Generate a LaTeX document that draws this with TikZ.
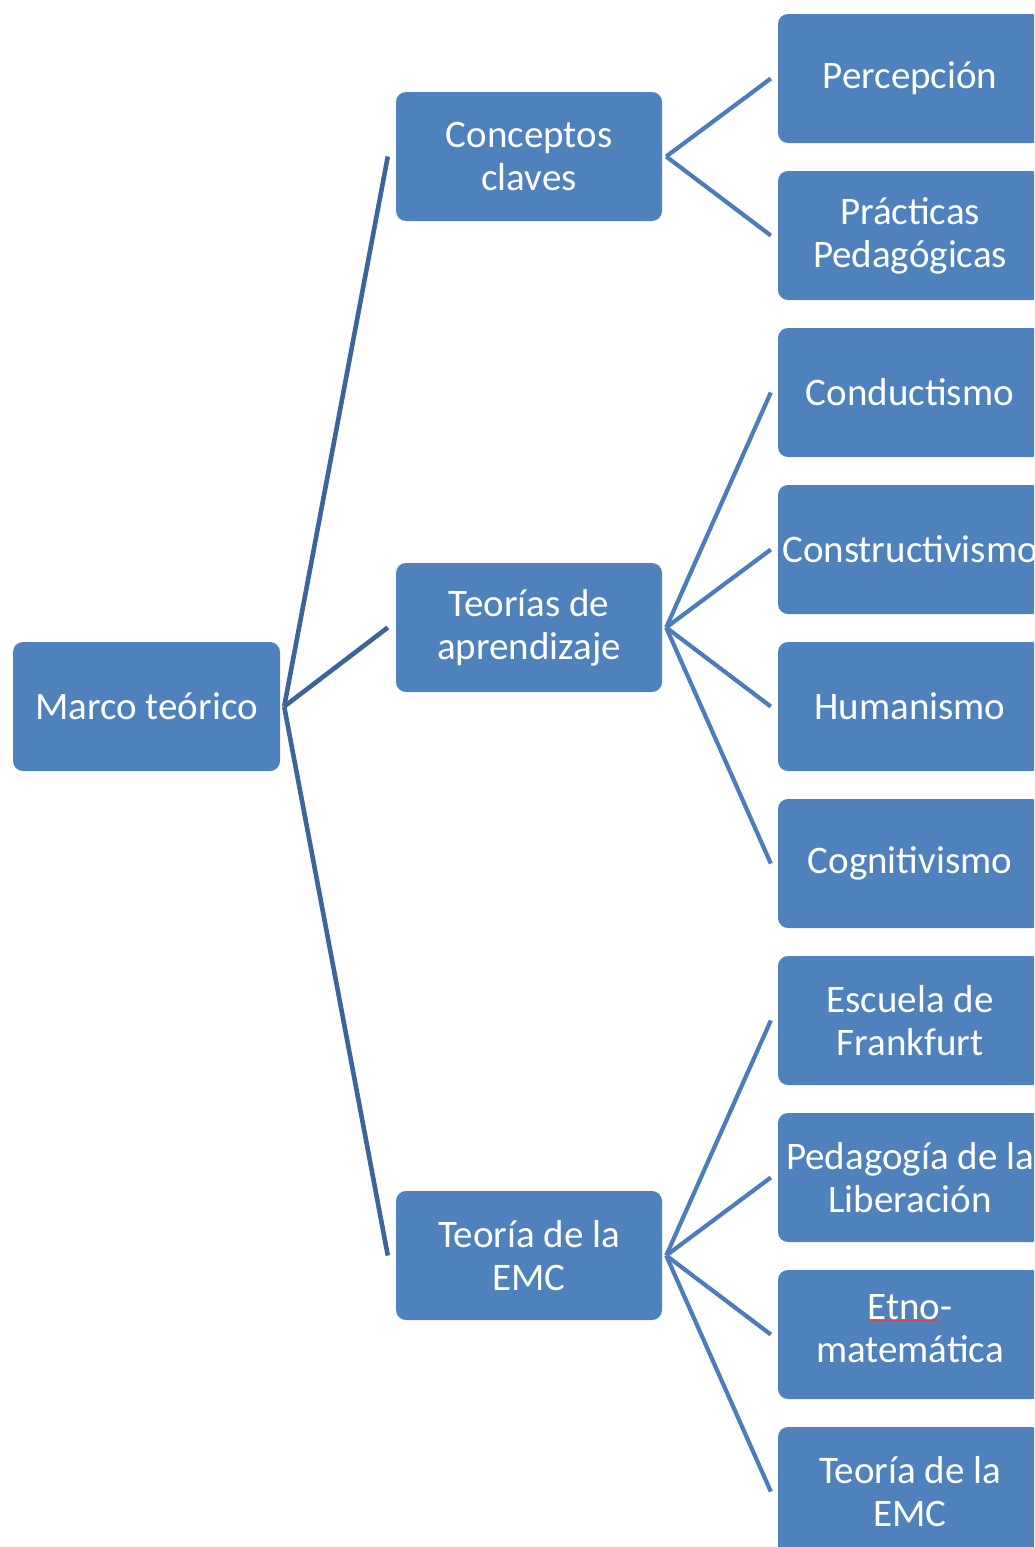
\documentclass[tikz,border=0pt]{standalone}
\usepackage{fontspec}
\setmainfont{Carlito}
\usetikzlibrary{calc}
\definecolor{boxblue}{HTML}{4F81BD}
\definecolor{linedark}{HTML}{3C6598}
\definecolor{linelight}{HTML}{4A7DBA}
\definecolor{spellred}{HTML}{C0504D}
\tikzset{
  box/.style={rectangle, rounded corners=10pt, fill=boxblue, text=white,
    align=center, inner sep=0pt, font=\fontsize{39}{43}\selectfont},
  lvlone/.style={box, minimum width=267pt, minimum height=129pt},
  lvltwo/.style={box, minimum width=266pt, minimum height=129pt},
  lvlthree/.style={box, minimum width=264pt, minimum height=129pt},
  conndark/.style={draw=linedark, line width=4.6pt},
  connlight/.style={draw=linelight, line width=4.2pt},
}
\begin{document}
\begin{tikzpicture}[x=1pt,y=-1pt]
\useasboundingbox (0,0) rectangle (1034,1547);
\clip (0,0) rectangle (1034,1547);
\fill[white] (0,0) rectangle (1034,1547);
% level 1
\node[lvlone] (m) at (146.5,706.5) {Marco teórico};
% level 2
\node[lvltwo] (a) at (529,156.5) {Conceptos\\claves};
\node[lvltwo] (b) at (529,627.5) {Teorías de\\aprendizaje};
\node[lvltwo] (c) at (529,1255.5) {Teoría de la\\EMC};
% level 3
\node[lvlthree] (a1) at (910,78.5) {Percepción};
\node[lvlthree] (a2) at (910,235.5) {Prácticas\\Pedagógicas};
\node[lvlthree] (b1) at (910,392.5) {Conductismo};
\node[lvlthree] (b2) at (910,549.5) {Constructivismo};
\node[lvlthree] (b3) at (910,706.5) {Humanismo};
\node[lvlthree] (b4) at (910,863.5) {Cognitivismo};
\node[lvlthree] (c1) at (910,1020.5) {Escuela de\\Frankfurt};
\node[lvlthree] (c2) at (910,1177.5) {Pedagogía de la\\Liberación};
\node[lvlthree] (c3) at (910,1334.5) {{\color{spellred}\underline{\smash{\textcolor{white}{Etno}}}}\rlap{-}\phantom{-}\\matemática};
\node[lvlthree] (c4) at (910,1491.5) {Teoría de la\\EMC};
% connectors level 1 -> 2
\foreach \t in {a,b,c}
  \draw[conndark] ([xshift=4pt]m.east) -- ([xshift=-8pt]\t.west);
% connectors level 2 -> 3
\foreach \s/\t in {a/a1,a/a2,b/b1,b/b2,b/b3,b/b4,c/c1,c/c2,c/c3,c/c4}
  \draw[connlight] ([xshift=4pt]\s.east) -- ([xshift=-7pt]\t.west);
\end{tikzpicture}
\end{document}
